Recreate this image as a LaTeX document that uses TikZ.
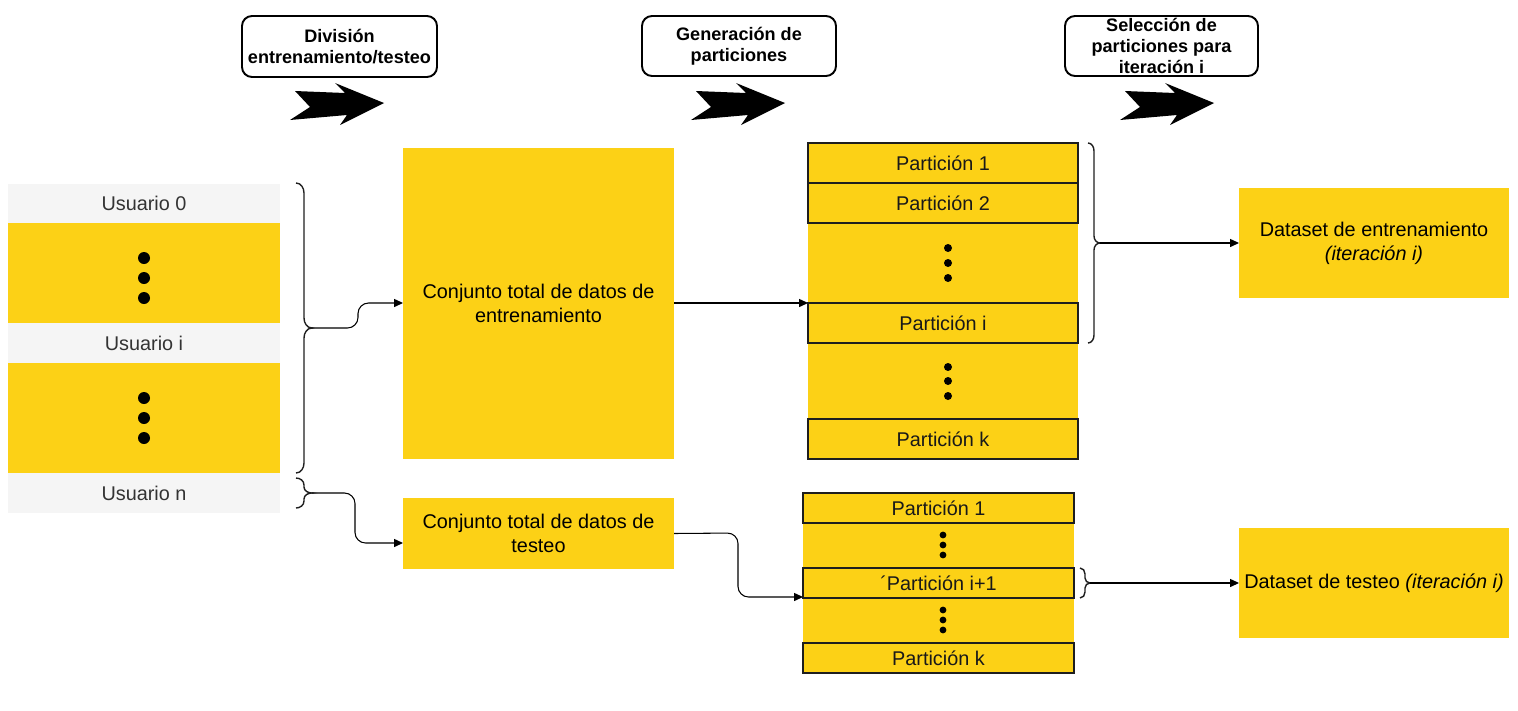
\documentclass[tikz,border=0pt]{standalone}
\usepackage{fontspec}
\setmainfont{Liberation Sans}
\usetikzlibrary{arrows.meta}
\definecolor{yel}{RGB}{252,209,22}
\definecolor{grayc}{RGB}{245,245,245}
\definecolor{txtg}{RGB}{51,51,51}
\definecolor{edge}{RGB}{30,30,30}
\begin{document}
\begin{tikzpicture}[x=0.02cm,y=-0.02cm,
  every node/.style={inner sep=0pt, outer sep=0pt, align=center,
    font=\fontsize{11.3}{13.6}\selectfont},
  pxw/.style={minimum width=#1*0.02cm},
  pxh/.style={minimum height=#1*0.02cm},
  ybox/.style={fill=yel},
  ucell/.style={fill=grayc, text=txtg},
  pbox/.style={fill=yel, draw=edge, line width=1.1pt, text=black!90},
  stagebox/.style={draw=black, line width=1.1pt, fill=white, rounded corners=0.2cm,
    font=\fontsize{10.3}{11.8}\selectfont\bfseries},
  conn/.style={line width=0.6pt, -{Triangle[length=5pt,width=4.5pt]}, rounded corners=6pt},
  bracel/.style={line width=0.8pt, draw=edge},
  fatarrow/.pic={\fill (4,-13) -- (54,-11) -- (44,-21) -- (93,-1) -- (49,21) -- (56,11) -- (-1,16) -- (19,3) -- cycle;}
]
\useasboundingbox (0,0) rectangle (1518,710);

% stage labels
\node[stagebox, pxw=195, pxh=61] (lab1) at (339.5,46.5) {División\\entrenamiento/testeo};
\node[stagebox, pxw=194, pxh=60] (lab2) at (739,46) {Generación de\\particiones};
\node[stagebox, pxw=193, pxh=60] (lab3) at (1161.5,46) {Selección de\\particiones para\\iteración i};
\pic at (291,104) {fatarrow};
\pic at (692,104) {fatarrow};
\pic at (1121,104) {fatarrow};

% left column
\node[ucell, pxw=272, pxh=40] (u0) at (144,203.5) {Usuario 0};
\node[ybox, pxw=272, pxh=100] (y1) at (144,273) {};
\node[ucell, pxw=272, pxh=40] (ui) at (144,343) {Usuario i};
\node[ybox, pxw=272, pxh=110] (y2) at (144,418) {};
\node[ucell, pxw=272, pxh=40] (un) at (144,493) {Usuario n};
\foreach \yy in {258,278,298,398,418,438} \fill (144,\yy) circle (6);

% middle boxes
\node[ybox, pxw=271, pxh=311] (train) at (538.5,303.5) {Conjunto total de datos de\\entrenamiento};
\node[ybox, pxw=271, pxh=71] (test) at (538.5,533.5) {Conjunto total de datos de\\testeo};

% top partitions
\node[ybox, pxw=270, pxh=316] (ptop) at (943,301) {};
\node[pbox, pxw=270, pxh=40] (p1) at (943,163) {Partición 1};
\node[pbox, pxw=270, pxh=40] (p2) at (943,203) {Partición 2};
\node[pbox, pxw=270, pxh=40] (pi) at (943,323) {Partición i};
\node[pbox, pxw=270, pxh=40] (pk) at (943,439) {Partición k};
\foreach \yy in {248,263,278,367,381,396} \fill (948,\yy) circle (4);

% bottom partitions
\node[ybox, pxw=271, pxh=180] (pbot) at (938.5,583) {};
\node[pbox, pxw=271, pxh=30] (q1) at (938.5,508) {Partición 1};
\node[pbox, pxw=271, pxh=30] (qi) at (938.5,583) {´Partición i+1};
\node[pbox, pxw=271, pxh=30] (qk) at (938.5,658) {Partición k};
\foreach \yy in {535,545,555,610,620,630} \fill (943,\yy) circle (3.4);

% datasets
\node[ybox, pxw=270, pxh=110] (dtrain) at (1374,243) {Dataset de entrenamiento\\\textit{(iteración i)}};
\node[ybox, pxw=270, pxh=110] (dtest) at (1374,583) {Dataset de testeo \textit{(iteración i)}};

% braces
\coordinate (b1tip) at (312,328);
\coordinate (b2tip) at (312,493);
\coordinate (b3tip) at (1100,243);
\coordinate (b4tip) at (1090,583);
\draw[bracel] (296,183) to[out=0,in=90] (304,193) -- (304,318) to[out=-90,in=180] (b1tip)
  to[out=180,in=90] (304,338) -- (304,463) to[out=-90,in=0] (296,473);
\draw[bracel] (296,478) to[out=0,in=90] (304,485) -- (304,487) to[out=-90,in=180] (b2tip)
  to[out=180,in=90] (304,499) -- (304,501) to[out=-90,in=0] (296,508);
\draw[bracel] (1088,143) to[out=0,in=90] (1094,151) -- (1094,236) to[out=-90,in=180] (b3tip)
  to[out=180,in=90] (1094,250) -- (1094,335) to[out=-90,in=0] (1088,343);
\draw[bracel] (1080,568) to[out=0,in=90] (1085,574) -- (1085,578) to[out=-90,in=180] (b4tip)
  to[out=180,in=90] (1085,588) -- (1085,592) to[out=-90,in=0] (1080,598);

% connectors
\draw[conn] (b1tip) -- (358,328) -- (358,303) -- (train.west |- 0,303);
\draw[conn] (b2tip) -- (355,493) -- (355,543) -- (test.west |- 0,543);
\draw[conn] (train.east |- 0,303) -- (ptop.west |- 0,303);
\draw[conn] (test.east) -- (738,533) -- (738,597) -- (pbot.west |- 0,597);
\draw[conn] (b3tip) -- (dtrain.west);
\draw[conn] (b4tip) -- (dtest.west);
\end{tikzpicture}
\end{document}
